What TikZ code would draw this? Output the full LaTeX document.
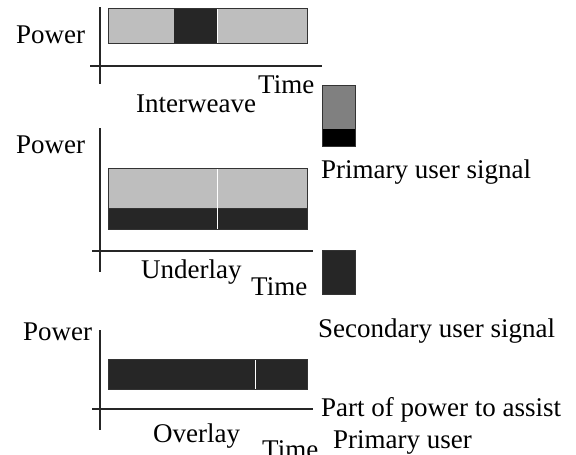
\documentclass[tikz,border=0pt]{standalone}
\usepackage{fontspec}
\setmainfont{Liberation Serif}

\definecolor{lightBar}{HTML}{BEBEBE}
\definecolor{darkBar}{HTML}{262626}
\definecolor{midBar}{HTML}{808080}

\tikzset{
    lbl/.style={inner sep=0pt, anchor=base west, font=\fontsize{27}{31}\selectfont},
    axis/.style={draw=black!85, line width=1.3pt},
    bar/.style={draw=black!80, line width=0.9pt},
    gap/.style={draw=white, line width=1pt}
}

\begin{document}
\begin{tikzpicture}[x=1pt, y=-1pt]
    \useasboundingbox (0,0) rectangle (576,455);

    % Globals
    \pgfmathsetmacro{\barXMin}{108}
    \pgfmathsetmacro{\barXMax}{307}
    \pgfmathsetmacro{\axisX}{100}

    % Interweave
    \coordinate (IW_N) at (\axisX, 7);
    \coordinate (IW_S) at (\axisX, 84);
    \coordinate (IW_W) at (90, 66);
    \coordinate (IW_E) at (322, 66);
    \draw[axis] (IW_N) -- (IW_S);
    \draw[axis] (IW_W) -- (IW_E);

    \fill[lightBar] (\barXMin, 8) rectangle (\barXMax, 43);
    \fill[darkBar] (174, 8) rectangle (217, 43);
    \draw[gap] (217, 8) -- (217, 43);
    \draw[bar] (\barXMin, 8) rectangle (\barXMax, 43);

    \node[lbl] (IW_POWER) at (16, 43) {Power};
    \node[lbl] (IW_TIME) at (258, 93) {Time};
    \node[lbl] (IW_NAME) at (136, 112) {Interweave};

    % Underlay
    \coordinate (UL_N) at (\axisX, 128);
    \coordinate (UL_S) at (\axisX, 272);
    \coordinate (UL_W) at (92, 251);
    \coordinate (UL_E) at (313, 251);
    \draw[axis] (UL_N) -- (UL_S);
    \draw[axis] (UL_W) -- (UL_E);

    \fill[lightBar] (\barXMin, 168) rectangle (\barXMax, 208);
    \fill[darkBar] (\barXMin, 208) rectangle (\barXMax, 229);
    \draw[bar] (\barXMin, 208) -- (\barXMax, 208);
    \draw[gap] (217, 168) -- (217, 229);
    \draw[bar] (\barXMin, 168) rectangle (\barXMax, 229);

    \node[lbl] (UL_POWER) at (16, 153) {Power};
    \node[lbl] (UL_NAME) at (141, 278) {Underlay};
    \node[lbl] (UL_TIME) at (251, 295) {Time};

    % Overlay
    \coordinate (OL_N) at (\axisX, 330);
    \coordinate (OL_S) at (\axisX, 430);
    \coordinate (OL_W) at (92, 409);
    \coordinate (OL_E) at (313, 409);
    \draw[axis] (OL_N) -- (OL_S);
    \draw[axis] (OL_W) -- (OL_E);

    \fill[darkBar] (\barXMin, 359) rectangle (\barXMax, 389);
    \draw[gap] (255, 359) -- (255, 389);
    \draw[bar] (\barXMin, 359) rectangle (\barXMax, 389);

    \node[lbl] (OL_POWER) at (23, 340) {Power};
    \node[lbl] (OL_NAME) at (153, 442) {Overlay};
    \node[lbl] (OL_TIME) at (262, 458) {Time};

    % Legend
    \fill[midBar] (322, 85) rectangle (355, 129);
    \fill[black] (322, 129) rectangle (355, 146);
    \draw[bar] (322, 85) rectangle (355, 146);
    \node[lbl] (PU_SIG) at (321, 178) {Primary user signal};

    \fill[darkBar] (322, 250) rectangle (355, 294);
    \draw[bar] (322, 250) rectangle (355, 294);
    \node[lbl] (SU_SIG) at (318, 337) {Secondary user signal};

    \node[lbl] (ASSIST) at (321, 416) {Part of power to assist};
    \node[lbl] (ASSIST_2) at (333, 448) {Primary user};

\end{tikzpicture}
\end{document}
